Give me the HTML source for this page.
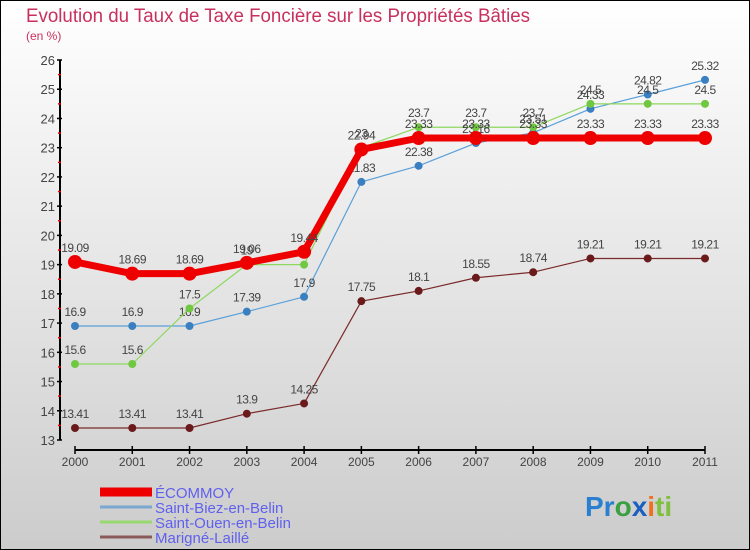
<!DOCTYPE html>
<html><head><meta charset="utf-8"><style>
body{margin:0}
#c{width:750px;height:550px;position:relative;overflow:hidden;font-family:"Liberation Sans",sans-serif}
</style></head><body>
<div id="c">
<svg id="s" width="750" height="550" xmlns="http://www.w3.org/2000/svg">
<defs><linearGradient id="bg" x1="0" y1="0" x2="0" y2="1"><stop offset="0" stop-color="#ffffff"/><stop offset="1" stop-color="#cccccc"/></linearGradient></defs>
<rect x="0.5" y="0.5" width="749" height="549" fill="url(#bg)" stroke="#000"/>
<text x="26" y="22" font-size="19" fill="#c8305e" textLength="504" lengthAdjust="spacingAndGlyphs">Evolution du Taux de Taxe Foncière sur les Propriétés Bâties</text>
<text x="26" y="40" font-size="12" fill="#c8305e">(en %)</text>
<g id="axes"></g><g id="series"></g><g id="legend"></g>
<text x="585" y="516" font-size="28" font-weight="bold"><tspan fill="#2a7fd0">Pr</tspan><tspan fill="#3aa040">o</tspan><tspan fill="#1a60c0">x</tspan><tspan fill="#f07020">i</tspan><tspan fill="#80c040">ti</tspan></text>
</svg></div>
<script>
const years=["2000","2001","2002","2003","2004","2005","2006","2007","2008","2009","2010","2011"];
const yTicks=[13,14,15,16,17,18,19,20,21,22,23,24,25,26];
const ecommoy=[19.09,18.69,18.69,19.06,19.44,22.94,23.33,23.33,23.33,23.33,23.33,23.33];
const biez=[16.9,16.9,16.9,17.39,17.9,21.83,22.38,23.16,23.51,24.33,24.82,25.32];
const ouen=[15.6,15.6,17.5,19,19,23,23.7,23.7,23.7,24.5,24.5,24.5];
const marigne=[13.41,13.41,13.41,13.9,14.25,17.75,18.1,18.55,18.74,19.21,19.21,19.21];
const names=["ÉCOMMOY","Saint-Biez-en-Belin","Saint-Ouen-en-Belin","Marigné-Laillé"];
const NS="http://www.w3.org/2000/svg";
const X=i=>75+i*(630/11), Y=v=>440-(v-13)*(380/13);
function mk(t,a,p){const e=document.createElementNS(NS,t);for(const k in a)e.setAttribute(k,a[k]);p.appendChild(e);return e;}
const ax=document.getElementById('axes');
let l=mk('line',{x1:60,y1:60,x2:60,y2:440,stroke:'#000','stroke-width':2},ax);


l=mk('line',{x1:75,y1:450,x2:705,y2:450,stroke:'#000','stroke-width':2},ax);


yTicks.forEach(v=>{mk('line',{x1:57,y1:Y(v),x2:62,y2:Y(v),stroke:'#000','stroke-width':1.5},ax);
 if(v<26)mk('line',{x1:58,y1:Y(v+0.5),x2:61,y2:Y(v+0.5),stroke:'#e00','stroke-width':1.5},ax);
 const t=mk('text',{x:55,y:Y(v)+5,'font-size':13,'text-anchor':'end',fill:'#444'},ax);t.textContent=v;
 
 });
years.forEach((y,i)=>{mk('line',{x1:X(i),y1:446,x2:X(i),y2:454,stroke:'#000','stroke-width':1.5},ax);
 const t=mk('text',{x:X(i),y:466,'font-size':12,'text-anchor':'middle',fill:'#444'},ax);t.textContent=y;
 
 });
const sg=document.getElementById('series');
const defs=[[marigne,'#7a2a2a','#6a1a1a',1.2,4,'series-marigne'],[biez,'#5aa0d8','#3a80c0',1.2,4,'series-saint-biez'],[ouen,'#8ed860','#70c840',1.2,4,'series-saint-ouen'],[ecommoy,'#ee0000','#ee0000',7,7,'series-ecommoy']];
defs.forEach(([d,c,dc,w,r,n])=>{const g=mk('g',{},sg);
 
 
 mk('polyline',{points:d.map((v,i)=>X(i)+','+Y(v)).join(' '),fill:'none',stroke:c,'stroke-width':w,'stroke-linejoin':'round'},g);
 d.forEach((v,i)=>{const p=mk('circle',{cx:X(i),cy:Y(v),r:r,fill:dc},g);
  
  
  const t=mk('text',{x:X(i),y:Y(v)-10,'font-size':12,'text-anchor':'middle',fill:'#444','letter-spacing':'-0.5'},g);t.textContent=v;
  
  });});
const lg=document.getElementById('legend');
const lc=[['#ee0000',9],['#7aa8d0',3],['#98d870',3],['#8a5a5a',3]];
names.forEach((n,i)=>{const y=492+i*15;
 const ln=mk('line',{x1:100,y1:y,x2:152,y2:y,stroke:lc[i][0],'stroke-width':lc[i][1]},lg);
 
 
 const t=mk('text',{x:155,y:y+6,'font-size':15,fill:'#6060ee'},lg);t.textContent=n;
 
 });
</script></body></html>
